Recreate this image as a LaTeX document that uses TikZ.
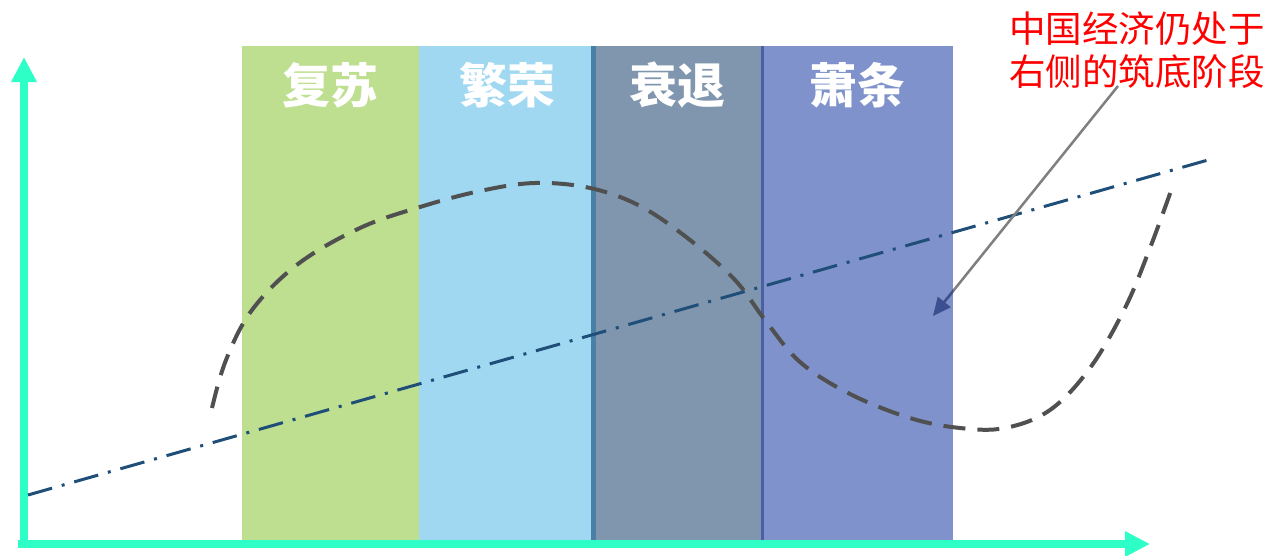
\documentclass[tikz,border=0pt]{standalone}
\usepackage{fontspec}
\newfontfamily\cjk{Noto Sans CJK SC}
\usetikzlibrary{arrows.meta}
\definecolor{axisc}{HTML}{2EFFC6}
\definecolor{bgreen}{HTML}{BDDF8F}
\definecolor{bblue}{HTML}{A0D8F2}
\definecolor{bgray}{HTML}{7F96AE}
\definecolor{bpurple}{HTML}{7F92CC}
\definecolor{stripeA}{HTML}{4A7FA5}
\definecolor{stripeB}{HTML}{4A5FA8}
\definecolor{trendc}{HTML}{1F4E79}
\definecolor{curvec}{HTML}{505050}
\definecolor{arrowg}{HTML}{7F7F7F}
\definecolor{arrowb}{HTML}{3A5090}
\tikzset{
  band/.style={draw=none},
  bandlabel/.style={text=white, font=\cjk\bfseries\fontsize{48}{52}\selectfont, anchor=center},
  axisline/.style={draw=axisc, line width=8pt, -{Triangle[width=24pt,length=25pt]}},
  trend/.style={draw=trendc, line width=3pt, dash pattern=on 25pt off 10pt on 3pt off 10pt},
  cycle/.style={draw=curvec, line width=4pt, dash pattern=on 22pt off 12pt},
  note/.style={text=red, font=\cjk\fontsize{36.5}{43}\selectfont, align=center},
  pointer/.style={line width=2.5pt, -{Triangle[width=16pt,length=18pt]}}
}
\begin{document}
\begin{tikzpicture}[x=1pt,y=-1pt]
\useasboundingbox (0,0) rectangle (1272,555);
% bands
\fill[bgreen] (242,46) rectangle (419,540);
\fill[bblue] (419,46) rectangle (591,540);
\fill[bgray] (591,46) rectangle (762,540);
\fill[bpurple] (762,46) rectangle (953,540);
\fill[stripeA] (591,46) rectangle (596,540);
\fill[stripeB] (761,46) rectangle (764,540);
% labels
\node[bandlabel] (l1) at (330,85) {复苏};
\node[bandlabel] (l2) at (507,85) {繁荣};
\node[bandlabel] (l3) at (677,85) {衰退};
\node[bandlabel] (l4) at (857,85) {萧条};
% axes
\coordinate (origin) at (24,548);
\coordinate (ytop) at (24,57);
\coordinate (xstart) at (18,544);
\coordinate (xend) at (1150,544);
\draw[axisline] (origin) -- (ytop);
\draw[axisline] (xstart) -- (xend);
% trend line
\coordinate (ts) at (28,495);
\coordinate (te) at (1208,160);
\draw[trend] (ts) -- (te);
% cycle curve
\draw[cycle] plot[smooth, tension=0.6] coordinates {(212,408) (226,360) (252,310) (298,264) (360,228) (420,207) (480,191) (535,183) (590,188) (640,206) (690,240) (735,280) (765,320) (800,362) (850,394) (910,418) (960,428) (1005,428) (1050,410) (1090,368) (1125,308) (1150,248) (1172,188)};
% annotation
\node[note] (note) at (1137,50) {中国经济仍处于\\右侧的筑底阶段};
\coordinate (nstart) at (1118,86);
\coordinate (target) at (933,316);
\draw[pointer, draw=arrowg, fill=arrowg] (nstart) -- (target);
\begin{scope}
\clip (762,46) rectangle (953,540);
\draw[pointer, draw=arrowb, fill=arrowb] (nstart) -- (target);
\end{scope}
\end{tikzpicture}
\end{document}
